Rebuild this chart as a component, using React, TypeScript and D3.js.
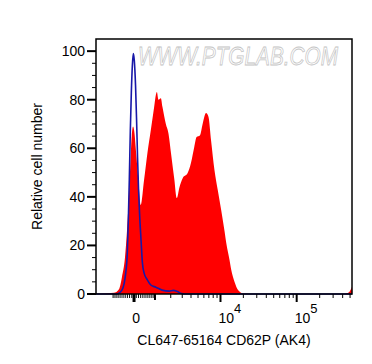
import React, { useEffect, useRef } from "react";
import * as d3 from "d3";

// red: stained sample, blue: unstained control (fluorescence, % of max)
const redX = [-2100, -956, -697, -552, -410, -317, -194, -103, -45, 22, 76, 194, 303, 457, 614, 784, 956, 1050, 1104, 1196, 1336, 1434, 1652, 1836, 2018, 2284, 2484, 2731, 3044, 3591, 4001, 4439, 4778, 5327, 5773, 6426, 6915, 7509, 8325, 9201, 10210, 11293, 11920, 13160, 13860, 15300, 16150, 17808, 19559, 25000, 420000, 480000, 530000];
const redY = [0, 0.5, 2, 7, 15, 26, 47, 65, 69, 66, 60, 47, 36.6, 47, 58, 67.5, 77, 82, 83.2, 80, 80.6, 77, 70, 66, 58, 47, 39.5, 44, 47.7, 49.8, 54, 60.5, 64.6, 65.4, 70, 74.5, 73, 63, 51, 42.8, 34.6, 26, 21, 14, 10, 5, 3, 1, 0.2, 0, 0, 0.6, 3];

const blueX = [-2100, -800, -552, -377, -303, -258, -212, -167, -121, -76, -31, 13, 67, 113, 158, 203, 249, 317, 377, 457, 614, 784, 1048, 1414, 1888, 2201, 2545, 2913, 3327, 530000];
const blueY = [0, 0, 1.6, 8.6, 17, 30, 47, 67, 83, 94, 99, 96, 86, 72, 56, 43, 33, 22, 13, 8.6, 5.8, 3.7, 2.8, 1.6, 1.2, 1.5, 1.0, 0.2, 0, 0];

const yTicks = [0, 20, 40, 60, 80, 100];
const xLabelValues = [0, 10000, 100000];
const xLabelBase = ["0", "10", "10"];
const xLabelExp = ["", "4", "5"];
const xMajorUnlabeled = [1000];
const xMinor = [
  -1000, -900, -800, -700, -600, -500, -400, -300, -200, -100,
  100, 200, 300, 400, 500, 600, 700, 800, 900,
  2000, 3000, 4000, 5000, 6000, 7000, 8000, 9000,
  20000, 30000, 40000, 50000, 60000, 70000, 80000, 90000,
  200000, 300000, 400000, 500000
];

const W = 372;
const H = 364;
const FONT = "Liberation Sans, Arial, sans-serif";

export default function App() {
  const ref = useRef<SVGSVGElement | null>(null);

  useEffect(() => {
    const svgEl = ref.current;
    if (!svgEl) return;
    const svg = d3.select(svgEl);
    svg.selectAll("*").remove();

    const margin = { top: 39, right: 20, bottom: 70, left: 96 };
    const innerW = W - margin.left - margin.right;
    const innerH = H - margin.top - margin.bottom;

    const g = svg.append("g").attr("transform", `translate(${margin.left},${margin.top})`);

    // biexponential-ish display transform
    const t = (v: number) => Math.asinh(v / 1484);
    const xLin = d3.scaleLinear().domain([t(-2100), t(530000)]).range([0, innerW]);
    const x = (v: number) => xLin(t(v));
    const y = d3.scaleLinear().domain([0, 105]).range([innerH, 0]);

    // watermark
    g.append("text")
      .attr("x", 42)
      .attr("y", 26)
      .attr("font-family", FONT)
      .attr("font-size", 26)
      .attr("font-style", "italic")
      .attr("textLength", 200)
      .attr("lengthAdjust", "spacingAndGlyphs")
      .attr("fill", "#fff")
      .attr("stroke", "#c4c4c4")
      .attr("stroke-width", 0.8)
      .text("WWW.PTGLAB.COM");

    const red = redX.map((v, i) => [v, redY[i]] as [number, number]);
    const blue = blueX.map((v, i) => [v, blueY[i]] as [number, number]);

    const area = d3
      .area<[number, number]>()
      .x((d) => x(d[0]))
      .y0(innerH)
      .y1((d) => y(d[1]))
      .curve(d3.curveMonotoneX);

    g.append("path").datum(red).attr("fill", "#ff0000").attr("d", area);

    const line = d3
      .line<[number, number]>()
      .x((d) => x(d[0]))
      .y((d) => y(d[1]))
      .curve(d3.curveMonotoneX);

    g.append("path")
      .datum(blue)
      .attr("fill", "none")
      .attr("stroke", "#1818a8")
      .attr("stroke-width", 1.6)
      .attr("d", line);

    // frame
    g.append("rect")
      .attr("width", innerW)
      .attr("height", innerH)
      .attr("fill", "none")
      .attr("stroke", "#000")
      .attr("stroke-width", 1.5);

    // y axis ticks
    const yMinor = d3.range(0, 101, 5).filter((v) => v % 20 !== 0);
    g.append("g")
      .selectAll("line")
      .data(yMinor)
      .join("line")
      .attr("x1", -4)
      .attr("x2", 0)
      .attr("y1", (d) => y(d))
      .attr("y2", (d) => y(d))
      .attr("stroke", "#000")
      .attr("stroke-width", 1);
    g.append("g")
      .selectAll("line")
      .data(yTicks)
      .join("line")
      .attr("x1", -9)
      .attr("x2", 0)
      .attr("y1", (d) => y(d))
      .attr("y2", (d) => y(d))
      .attr("stroke", "#000")
      .attr("stroke-width", 2);
    g.append("g")
      .selectAll("text")
      .data(yTicks)
      .join("text")
      .attr("x", -11)
      .attr("y", (d) => y(d))
      .attr("dy", "0.36em")
      .attr("text-anchor", "end")
      .attr("font-family", FONT)
      .attr("font-size", 14)
      .text((d) => d);

    // x axis ticks
    g.append("g")
      .selectAll("line")
      .data(xMinor)
      .join("line")
      .attr("x1", (d) => x(d))
      .attr("x2", (d) => x(d))
      .attr("y1", innerH)
      .attr("y2", innerH + 4)
      .attr("stroke", "#000")
      .attr("stroke-width", 1);
    g.append("g")
      .selectAll("line")
      .data(xMajorUnlabeled.concat(xLabelValues))
      .join("line")
      .attr("x1", (d) => x(d))
      .attr("x2", (d) => x(d))
      .attr("y1", innerH)
      .attr("y2", (d) => innerH + (d === 1000 ? 6 : 8))
      .attr("stroke", "#000")
      .attr("stroke-width", (d) => (d === 0 ? 3 : 2));

    const labels = g
      .append("g")
      .selectAll("text")
      .data(xLabelValues)
      .join("text")
      .attr("x", (d, i) => (i === 0 ? x(d) + 2 : x(d) - 2))
      .attr("y", innerH + 29)
      .attr("text-anchor", (d, i) => (i === 0 ? "middle" : "start"))
      .attr("font-family", FONT)
      .attr("font-size", 14);
    labels.append("tspan").text((d, i) => xLabelBase[i]);
    labels
      .append("tspan")
      .attr("dy", -10)
      .attr("font-size", 13)
      .text((d, i) => xLabelExp[i]);

    // axis titles
    svg
      .append("text")
      .attr("x", 224)
      .attr("y", 345)
      .attr("text-anchor", "middle")
      .attr("font-family", FONT)
      .attr("font-size", 14)
      .text("CL647-65164 CD62P (AK4)");

    svg
      .append("text")
      .attr("transform", `translate(42,${margin.top + innerH / 2}) rotate(-90)`)
      .attr("text-anchor", "middle")
      .attr("font-family", FONT)
      .attr("font-size", 14)
      .text("Relative cell number");
  }, []);

  return (
    <svg
      ref={ref}
      width={W}
      height={H}
      style={{ position: "absolute", left: 0, top: 0, background: "#fff" }}
    />
  );
}
